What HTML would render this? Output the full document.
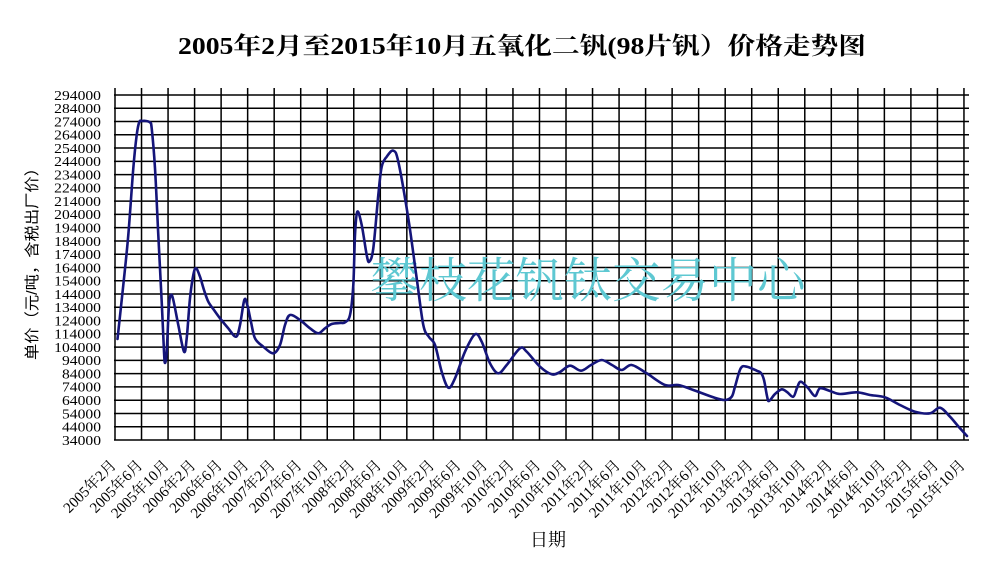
<!DOCTYPE html>
<html><head><meta charset="utf-8"><style>
html,body{margin:0;padding:0;background:#fff;}
svg{display:block;}
</style></head><body>
<svg id="chart" width="983" height="570" viewBox="0 0 983 570" xmlns="http://www.w3.org/2000/svg">
<rect width="983" height="570" fill="#fff"/>
<text x="178" y="54" font-family="'Liberation Serif','Noto Serif CJK SC',serif" font-size="24" font-weight="bold" textLength="688" lengthAdjust="spacingAndGlyphs" fill="#000">2005年2月至2015年10月五氧化二钒(98片钒）价格走势图</text>
<g id="grid" stroke="#000" stroke-width="1.5"></g>
<text x="588" y="297" font-family="'Noto Serif CJK SC','Noto Sans CJK SC',serif" font-size="48" textLength="435" lengthAdjust="spacingAndGlyphs" fill="#5ec8d2" text-anchor="middle">攀枝花钒钛交易中心</text>
<path id="curve" fill="none" stroke="#15157a" stroke-width="2.6" stroke-linejoin="round" stroke-linecap="round" d="M117.5,339"/>
<g id="ylab" font-family="'Liberation Serif',serif" font-size="14" fill="#000" text-anchor="end"></g>
<g id="xlab" font-family="'Liberation Serif','Noto Serif CJK SC',serif" font-size="15" fill="#000" text-anchor="end"></g>
<text transform="translate(37,260) rotate(-90)" font-family="'Liberation Sans','Noto Sans CJK SC',sans-serif" font-size="15" text-anchor="middle" textLength="200" lengthAdjust="spacingAndGlyphs" fill="#000">单价（元/吨，含税出厂价）</text>
<text x="548" y="546" font-family="'Noto Serif CJK SC',serif" font-size="18" text-anchor="middle" fill="#000">日期</text>
</svg>
<script>
(function(){
var NS="http://www.w3.org/2000/svg";
var g=document.getElementById("grid");
function ln(x1,y1,x2,y2){var l=document.createElementNS(NS,"line");l.setAttribute("x1",x1);l.setAttribute("y1",y1);l.setAttribute("x2",x2);l.setAttribute("y2",y2);g.appendChild(l);}
var yl=document.getElementById("ylab");
for(var k=0;k<=26;k++){
 var y=440-k*13.27;
 ln(114,y,969,y);
 var t=document.createElementNS(NS,"text");
 var v=34000+k*10000;
 t.setAttribute("x",101);t.setAttribute("y",(y+4.8).toFixed(1));
 var s=String(v);
 t.setAttribute("textLength",(s.length*7.8).toFixed(1));
 t.setAttribute("lengthAdjust","spacingAndGlyphs");
 t.textContent=s;yl.appendChild(t);
}
var xl=document.getElementById("xlab");
var i=0;
for(var yr=2005;yr<=2015;yr++){
 var ms=[2,6,10];
 for(var j=0;j<3;j++){
  var x=115+26.53*i;
  ln(x,88,x,440);
  var px=x+2,py=466;
  var t2=document.createElementNS(NS,"text");
  t2.setAttribute("x",px);t2.setAttribute("y",py);
  t2.setAttribute("transform","rotate(-45 "+px+" "+py+")");
  t2.textContent=yr+"年"+ms[j]+"月";
  xl.appendChild(t2);
  i++;
 }
}
var raw="117.5,339 123.3,285 128.3,235 133.3,168.3 136.7,135 139.3,122 142,121 146,121 150,122.5 151.7,128.3 155,168.3 158.3,235 161.7,301.7 164,351.7 165,363 166.7,351.7 169,305 171,295 173.3,300 178.3,325 184,351.7 186.7,338.3 190,298.3 193.3,275 196,268.3 200,276.7 204,290 208.3,301.7 214,310 220,318.3 228,328 236,336.7 240,325 244.3,300 247.3,305 251,322 255,338.3 263.3,346.7 273.3,353.3 280,345 285,325 290,315 300,320 310,328.3 318.3,333.3 325,328.3 331.7,324 340,323 345,322.3 350,315 353.3,285 355,235 357.3,211.7 361.7,225 366.7,255 369.3,261.7 373.3,248.3 378.3,195 381.7,166.7 386.7,156.7 393.3,150.7 398.3,161.7 408.3,218.3 416.7,278.3 423.3,325 429,337 435,345 441.7,371.7 448.3,387.7 455,378.3 465,351.7 475,334.3 481.7,341.7 490,363.3 498.3,373.3 506.7,365 520,348.3 526.7,351.7 540,366.7 551.7,374.3 560,372 570,365.7 581,370.7 591,365 601.7,360 612,365 621.7,370 631.7,365 646.7,373.3 665,385 678.3,385 693.3,390 713.3,397.3 725,400 731.7,396.7 735,386.7 740.7,368.3 746.7,366.7 756.7,370.7 761,373 764,380 767,396 769,401 775,394 781.7,389.3 787,392 793.3,396.7 797,388 800.7,381.7 808,388 815,396 820,388.3 830,391 840,394 856.7,392.3 870,395 885,397.3 900,405 915,411.7 930,413.3 940,407.7 950,416.7 958,426 967,436";
var pts=raw.trim().split(/\s+/).map(function(p){var a=p.split(",");return [parseFloat(a[0]),parseFloat(a[1])];});
var d="M"+pts[0][0]+","+pts[0][1];
var tn=0.5;
var n=pts.length;
for(var q=0;q<n-1;q++){
 var p0=pts[q>0?q-1:q],p1=pts[q],p2=pts[q+1],p3=pts[(q+2<n)?q+2:q+1];
 var c1x=p1[0]+(p2[0]-p0[0])*tn/3,c1y=p1[1]+(p2[1]-p0[1])*tn/3;
 var c2x=p2[0]-(p3[0]-p1[0])*tn/3,c2y=p2[1]-(p3[1]-p1[1])*tn/3;
 d+=" C"+c1x.toFixed(2)+","+c1y.toFixed(2)+" "+c2x.toFixed(2)+","+c2y.toFixed(2)+" "+p2[0]+","+p2[1];
}
document.getElementById("curve").setAttribute("d",d);
})();
</script>
</body></html>
